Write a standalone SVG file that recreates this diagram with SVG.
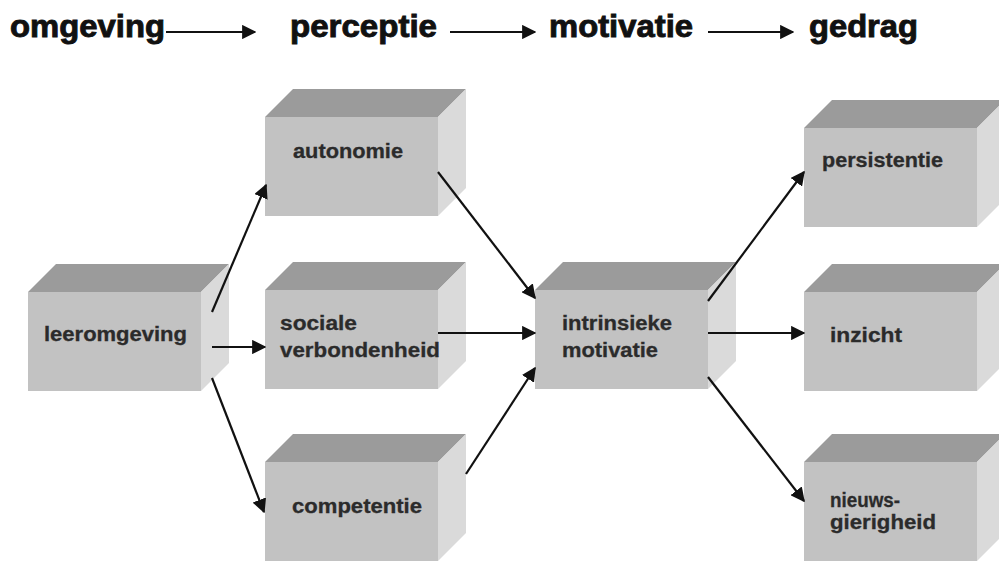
<svg xmlns="http://www.w3.org/2000/svg" xmlns:xlink="http://www.w3.org/1999/xlink" width="999" height="561" viewBox="0 0 999 561">
<style>
.front{fill:#c2c2c2}
.top{fill:#9b9b9b}
.side{fill:#dadada}
.hdr{font-family:"Liberation Sans",Arial,sans-serif;font-weight:bold;font-size:31px;fill:#111;stroke:#111;stroke-width:0.9}
.lbl{font-family:"Liberation Sans",Arial,sans-serif;font-weight:bold;font-size:20px;fill:#2b2b2b;stroke:#2b2b2b;stroke-width:0.3}
.con{stroke:#111;stroke-width:2.2;fill:none;marker-end:url(#ah)}
</style>
<defs>
<marker id="ah" viewBox="0 0 10 10" refX="9" refY="5" markerWidth="6.5" markerHeight="6.5" markerUnits="strokeWidth" orient="auto">
<path d="M0,0 L10,5 L0,10 z" fill="#111"/>
</marker>
<g id="box">
<polygon class="top" points="0,0 28,-28 201,-28 173,0"/>
<polygon class="side" points="173,0 201,-28 201,71 173,99"/>
<rect class="front" x="0" y="0" width="173" height="99"/>
</g>
</defs>
<rect width="999" height="561" fill="#fff"/>
<g id="header">
<text class="hdr" x="10" y="37" textLength="155" lengthAdjust="spacingAndGlyphs">omgeving</text>
<text class="hdr" x="290" y="37" textLength="147" lengthAdjust="spacingAndGlyphs">perceptie</text>
<text class="hdr" x="549" y="37" textLength="144" lengthAdjust="spacingAndGlyphs">motivatie</text>
<text class="hdr" x="809" y="37" textLength="109" lengthAdjust="spacingAndGlyphs">gedrag</text>
</g>
<g id="node-leeromgeving"><use xlink:href="#box" transform="translate(28,292)"/><text class="lbl" x="44" y="341" textLength="143" lengthAdjust="spacingAndGlyphs">leeromgeving</text></g>
<g id="node-autonomie"><use xlink:href="#box" transform="translate(265,117)"/><text class="lbl" x="293" y="158" textLength="110" lengthAdjust="spacingAndGlyphs">autonomie</text></g>
<g id="node-sociale"><use xlink:href="#box" transform="translate(265,290)"/><text class="lbl" x="280" y="330" textLength="77" lengthAdjust="spacingAndGlyphs">sociale</text><text class="lbl" x="280" y="357" textLength="160" lengthAdjust="spacingAndGlyphs">verbondenheid</text></g>
<g id="node-competentie"><use xlink:href="#box" transform="translate(265,462)"/><text class="lbl" x="292" y="513" textLength="130" lengthAdjust="spacingAndGlyphs">competentie</text></g>
<g id="node-intrinsieke"><use xlink:href="#box" transform="translate(535,290)"/><text class="lbl" x="562" y="330" textLength="110" lengthAdjust="spacingAndGlyphs">intrinsieke</text><text class="lbl" x="562" y="357" textLength="96" lengthAdjust="spacingAndGlyphs">motivatie</text></g>
<g id="node-persistentie"><use xlink:href="#box" transform="translate(804,128)"/><text class="lbl" x="822" y="167" textLength="121" lengthAdjust="spacingAndGlyphs">persistentie</text></g>
<g id="node-inzicht"><use xlink:href="#box" transform="translate(804,292)"/><text class="lbl" x="830" y="342" textLength="72" lengthAdjust="spacingAndGlyphs">inzicht</text></g>
<g id="node-nieuwsgierigheid"><use xlink:href="#box" transform="translate(804,462)"/><text class="lbl" x="830" y="507" textLength="70" lengthAdjust="spacingAndGlyphs">nieuws-</text><text class="lbl" x="830" y="529" textLength="106" lengthAdjust="spacingAndGlyphs">gierigheid</text></g>
<g id="connectors">
<line class="con" x1="166" y1="32" x2="255" y2="32"/>
<line class="con" x1="450" y1="32" x2="535" y2="32"/>
<line class="con" x1="708" y1="32" x2="793" y2="32"/>
<line class="con" x1="212" y1="312" x2="266" y2="185"/>
<line class="con" x1="212" y1="347" x2="265" y2="347"/>
<line class="con" x1="212" y1="378" x2="264" y2="512"/>
<line class="con" x1="438" y1="172" x2="535" y2="298"/>
<line class="con" x1="438" y1="333" x2="535" y2="333"/>
<line class="con" x1="466" y1="474" x2="535" y2="368"/>
<line class="con" x1="708" y1="301" x2="804" y2="172"/>
<line class="con" x1="708" y1="333" x2="804" y2="333"/>
<line class="con" x1="708" y1="377" x2="804" y2="501"/>
</g>
</svg>
